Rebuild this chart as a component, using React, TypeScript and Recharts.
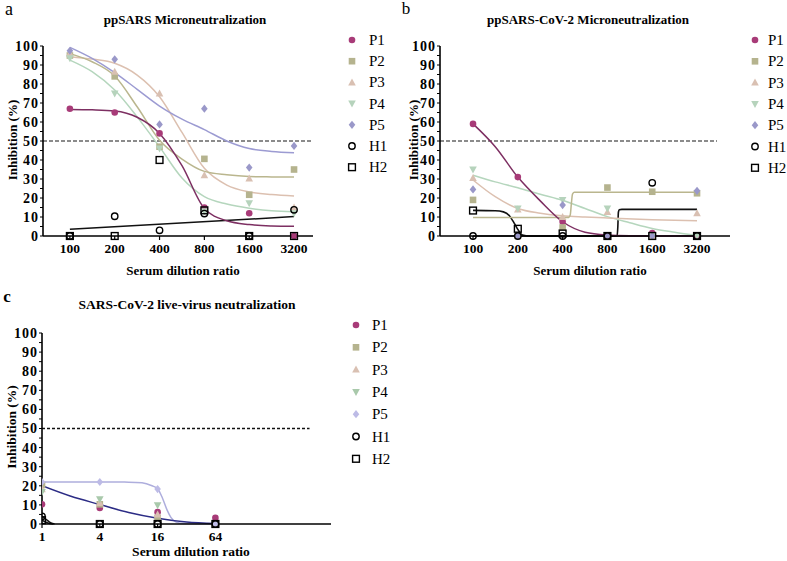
import React from 'react';
import { ComposedChart, Scatter, Line, XAxis, YAxis, ReferenceLine } from 'recharts';

const FONT = '"Liberation Serif", "Times New Roman", serif';

// dilution steps
const ppDilutions = [100, 200, 400, 800, 1600, 3200];
const liveDilutions = [1, 4, 16, 64];
const yTicks = [0, 5, 10, 15, 20, 25, 30, 35, 40, 45, 50, 55, 60, 65, 70, 75, 80, 85, 90, 95, 100];

// a: ppSARS microneutralization (% inhibition)
const sarsP1 = [67, 65, 54, 15, 12, 0];
const sarsP2 = [95, 84, 47, 40.6, 21.7, 35];
const sarsP3 = [96, 86.5, 75, 32, 30.2, 15];
const sarsP4 = [93.5, 75, 46, 13, 17.2, 12];
const sarsP5 = [97.5, 93, 58.7, 67, 36, 47.4];
const sarsH1 = [0, 10.4, 3, 11.8, 0, 13.8];
const sarsH2 = [0, 0, 40, 13.5, 0, 0];

// a: fitted curves
const sarsFitX = [100, 141, 200, 283, 400, 566, 800, 1131, 1600, 2263, 3200];
const sarsFitP1 = [66.6, 66.4, 65.8, 62.5, 54, 37, 14.5, 8, 6, 5.3, 5.1];
const sarsFitP2 = [96, 91.7, 84.2, 68, 50.4, 40.5, 34, 32.2, 31.3, 31.1, 31];
const sarsFitP3 = [94.4, 93.1, 90.9, 84.7, 73.3, 54.5, 35.6, 26.8, 23.2, 21.8, 21.1];
const sarsFitP4 = [92.6, 86.5, 76.8, 62.7, 46.9, 30.5, 20.7, 16.8, 14.6, 13.3, 12.8];
const sarsFitP5 = [99.3, 93.5, 86, 77.2, 68.4, 61.5, 56, 50, 46, 44.5, 43.8];
const sarsFitHX = [100, 3200];
const sarsFitH = [3.5, 10.2];

// b: ppSARS-CoV-2 microneutralization
const cov2P1 = [59, 31, 7.5, 0, 1.5, 0];
const cov2P2 = [19, 0, 4.5, 25.5, 23.3, 22.5];
const cov2P3 = [30.5, 14, 10, 12.6, 0, 12];
const cov2P4 = [35, 14.5, 19, 14.5, 0, 0];
const cov2P5 = [24.5, 0, 16.3, 0, 0, 23.8];
const cov2H1 = [0, 0, 0, 0, 28, 0];
const cov2H2 = [13.4, 3.8, 1.3, 0, 0, 0];

// b: fitted curves
const cov2FitP1X = [100, 141, 200, 283, 400, 566, 800, 1131, 1600, 3200];
const cov2FitP1 = [59, 47, 31, 18.5, 7.5, 2, 0.5, 0.1, 0, 0];
const cov2FitP2X = [100, 440, 450, 458, 466, 480, 3200];
const cov2FitP2 = [9.8, 9.8, 11, 17, 22, 23, 23];
const cov2FitP3X = [100, 141, 200, 283, 400, 566, 800, 1600, 3200];
const cov2FitP3 = [29.5, 20.7, 14.5, 12, 10.6, 10, 9.5, 8.6, 8];
const cov2FitP4X = [100, 141, 200, 283, 400, 566, 800, 1131, 1600, 2263, 3200];
const cov2FitP4 = [32, 28.5, 25.4, 22, 18.8, 14.5, 10.2, 7, 4, 2, 0.3];
const cov2FitH1X = [100, 900, 930, 940, 948, 960, 1000, 3200];
const cov2FitH1 = [0, 0, 0.3, 5, 12.5, 13.8, 14, 14];
const cov2FitH2X = [100, 141, 160, 175, 190, 200, 215, 240, 3200];
const cov2FitH2 = [13.5, 13.3, 12.7, 10.8, 6.5, 3.5, 0.5, 0, 0];

// c: SARS-CoV-2 live-virus neutralization
const liveP1 = [10.3, 8.4, 6.2, 3.2];
const liveP2 = [20.4, 10.3, 3.2, 0];
const liveP3 = [18.2, 11, 5, 0];
const liveP4 = [16.8, 13, 9.8, 0];
const liveP5 = [22, 22, 18.3, 0];
const liveH1 = [4, 0, 0, 0];
const liveH2 = [2, 0, 0, 0];

// c: fitted curves
const liveFitP5X = [1, 4, 8, 11, 14, 16, 18, 20, 22, 25, 30, 64];
const liveFitP5 = [22, 22, 21.9, 21.6, 20, 18.5, 13.5, 7.5, 3.5, 1, 0.2, 0];
const liveFitAllX = [1, 2, 4, 8, 16, 32, 64];
const liveFitAll = [20, 14.5, 10.2, 6, 3, 1, 0.2];
const liveFitH1X = [1, 1.1, 1.2, 1.35];
const liveFitH1 = [4, 2.5, 1, 0];
const liveFitH2X = [1, 1.15, 1.3];
const liveFitH2 = [2, 0.5, 0];

type Kind = 'circle' | 'square' | 'triangle' | 'down' | 'diamond' | 'openCircle' | 'openSquare';

const Marker = ({ kind, color, cx, cy }: { kind: Kind; color: string; cx: number; cy: number }) => {
  const s = 3.3;
  switch (kind) {
    case 'circle':
      return <circle cx={cx} cy={cy} r={s} fill={color} />;
    case 'square':
      return <rect x={cx - s} y={cy - s} width={2 * s} height={2 * s} fill={color} />;
    case 'triangle':
      return <polygon points={`${cx},${cy - s - 0.7} ${cx + s + 0.5},${cy + s - 0.3} ${cx - s - 0.5},${cy + s - 0.3}`} fill={color} />;
    case 'down':
      return <polygon points={`${cx},${cy + s + 0.7} ${cx + s + 0.5},${cy - s + 0.3} ${cx - s - 0.5},${cy - s + 0.3}`} fill={color} />;
    case 'diamond':
      return <polygon points={`${cx},${cy - s - 0.8} ${cx + s},${cy} ${cx},${cy + s + 0.8} ${cx - s},${cy}`} fill={color} />;
    case 'openCircle':
      return <circle cx={cx} cy={cy} r={3.2} fill="none" stroke="#000" strokeWidth={1.4} />;
    case 'openSquare':
      return <rect x={cx - 3.4} y={cy - 3.4} width={6.8} height={6.8} fill="none" stroke="#000" strokeWidth={1.4} />;
  }
  return null;
};

interface Series { name: string; kind: Kind; color: string; values: number[] }
interface Fit { xs: number[]; ys: number[]; color: string; width?: number }

const toPts = (xs: number[], ys: number[]) => xs.map((x, i) => ({ x, y: ys[i] }));

const mk = (c1: string, c2: string, c3: string, c4: string, c5: string, v: number[][]): Series[] => [
  { name: 'P1', kind: 'circle', color: c1, values: v[0] },
  { name: 'P2', kind: 'square', color: c2, values: v[1] },
  { name: 'P3', kind: 'triangle', color: c3, values: v[2] },
  { name: 'P4', kind: 'down', color: c4, values: v[3] },
  { name: 'P5', kind: 'diamond', color: c5, values: v[4] },
  { name: 'H1', kind: 'openCircle', color: '#000', values: v[5] },
  { name: 'H2', kind: 'openSquare', color: '#000', values: v[6] },
];

const M1 = '#a83b78';
const M2 = '#b5b38e';
const M3 = '#d9c0b2';
const M4 = '#b6d3bc';
const M5 = '#9a98c9';

const sarsSeries = mk(M1, M2, M3, M4, M5, [sarsP1, sarsP2, sarsP3, sarsP4, sarsP5, sarsH1, sarsH2]);
const cov2Series = mk(M1, M2, M3, M4, M5, [cov2P1, cov2P2, cov2P3, cov2P4, cov2P5, cov2H1, cov2H2]);
const liveSeries = mk(M1, M2, M3, '#a9c9ab', '#bdbbe6', [liveP1, liveP2, liveP3, liveP4, liveP5, liveH1, liveH2]);

const sarsFits: Fit[] = [
  { xs: sarsFitHX, ys: sarsFitH, color: '#111' },
  { xs: sarsFitX, ys: sarsFitP4, color: '#b5d6bd' },
  { xs: sarsFitX, ys: sarsFitP3, color: '#dcc0b0' },
  { xs: sarsFitX, ys: sarsFitP2, color: '#bab68e' },
  { xs: sarsFitX, ys: sarsFitP5, color: '#9c9bd2' },
  { xs: sarsFitX, ys: sarsFitP1, color: '#7d2f62' },
];

const cov2Fits: Fit[] = [
  { xs: cov2FitH1X, ys: cov2FitH1, color: '#111', width: 1.6 },
  { xs: cov2FitH2X, ys: cov2FitH2, color: '#111', width: 1.6 },
  { xs: cov2FitP4X, ys: cov2FitP4, color: '#b5d6bd' },
  { xs: cov2FitP3X, ys: cov2FitP3, color: '#dcc0b0' },
  { xs: cov2FitP2X, ys: cov2FitP2, color: '#bab68e' },
  { xs: cov2FitP1X, ys: cov2FitP1, color: '#7d2f62' },
];

const liveFits: Fit[] = [
  { xs: liveFitH1X, ys: liveFitH1, color: '#111' },
  { xs: liveFitH2X, ys: liveFitH2, color: '#111' },
  { xs: liveFitP5X, ys: liveFitP5, color: '#aeaedd' },
  { xs: liveFitAllX, ys: liveFitAll, color: '#2c2c85' },
];

interface PanelProps {
  left: number;
  top: number;
  width: number;
  height: number;
  yWidth: number;
  domain: [number, number];
  ticks: number[];
  dashEnd: number;
  dashColor: string;
  dashArray: string;
  series: Series[];
  fits: Fit[];
}

const Panel = ({ left, top, width, height, yWidth, domain, ticks, dashEnd, dashColor, dashArray, series, fits }: PanelProps) => (
  <div style={{ position: 'absolute', left, top }}>
    <ComposedChart width={width} height={height} margin={{ top: 46, right: 7, bottom: 4, left: 0 }}>
      <XAxis
        type="number"
        dataKey="x"
        scale="log"
        domain={domain}
        ticks={ticks}
        interval={0}
        allowDataOverflow
        height={20}
        axisLine={{ stroke: '#000', strokeWidth: 1.6 }}
        tickLine={{ stroke: '#000', strokeWidth: 1.2 }}
        tickSize={4}
        tickMargin={3}
        tick={{ fill: '#000', fontFamily: FONT, fontWeight: 'bold', fontSize: 13.5 }}
      />
      <YAxis
        type="number"
        dataKey="y"
        domain={[0, 100]}
        ticks={yTicks}
        interval={0}
        width={yWidth}
        tickFormatter={(v: number) => (v % 10 === 0 ? String(v) : '')}
        axisLine={{ stroke: '#000', strokeWidth: 1.6 }}
        tickLine={{ stroke: '#000', strokeWidth: 1 }}
        tickSize={3}
        tickMargin={1}
        tick={{ fill: '#000', fontFamily: FONT, fontWeight: 'bold', fontSize: 14, letterSpacing: 1 }}
      />
      <ReferenceLine
        segment={[{ x: domain[0], y: 50 }, { x: dashEnd, y: 50 }]}
        stroke={dashColor}
        strokeDasharray={dashArray}
        strokeWidth={1.3}
      />
      {fits.map((f, i) => (
        <Line
          key={'f' + i}
          data={toPts(f.xs, f.ys)}
          dataKey="y"
          type="monotone"
          stroke={f.color}
          strokeWidth={f.width ?? 1.5}
          dot={false}
          activeDot={false}
          legendType="none"
          isAnimationActive={false}
        />
      ))}
      {series.map((s) => (
        <Scatter
          key={s.name}
          name={s.name}
          data={toPts(ticks.slice(0, s.values.length), s.values)}
          shape={(p: any) => <Marker kind={s.kind} color={s.color} cx={p.cx} cy={p.cy} />}
          isAnimationActive={false}
        />
      ))}
    </ComposedChart>
  </div>
);

const Text = ({ x, y, size, bold, rotate, children }: { x: number; y: number; size: number; bold?: boolean; rotate?: boolean; children: React.ReactNode }) => (
  <div
    style={{
      position: 'absolute',
      left: x,
      top: y,
      transform: `translate(-50%, -50%)${rotate ? ' rotate(-90deg)' : ''}`,
      fontFamily: FONT,
      fontSize: size,
      fontWeight: bold ? 'bold' : 'normal',
      lineHeight: 1,
      whiteSpace: 'nowrap',
      color: '#000',
    }}
  >
    {children}
  </div>
);

const LegendBox = ({ x, textX, y0, step, series }: { x: number; textX: number; y0: number; step: number; series: Series[] }) => (
  <>
    <svg style={{ position: 'absolute', left: 0, top: 0 }} width={787} height={561} pointerEvents="none">
      {series.map((s, i) => (
        <Marker key={s.name} kind={s.kind} color={s.color} cx={x} cy={y0 + i * step} />
      ))}
    </svg>
    {series.map((s, i) => (
      <div
        key={s.name}
        style={{ position: 'absolute', left: textX, top: y0 + i * step - 8, fontFamily: FONT, fontSize: 15, lineHeight: '16px' }}
      >
        {s.name}
      </div>
    ))}
  </>
);

export default function App() {
  return (
    <div style={{ position: 'absolute', left: 0, top: 0, width: 787, height: 561, background: '#fff', overflow: 'hidden' }}>
      <Panel left={0} top={0} width={320} height={260} yWidth={43} domain={[66, 4290]} ticks={ppDilutions} dashEnd={4290} dashColor="#666" dashArray="4 2" series={sarsSeries} fits={sarsFits} />
      <Panel left={397} top={0} width={340} height={260} yWidth={43} domain={[60, 5330]} ticks={ppDilutions} dashEnd={4362} dashColor="#666" dashArray="4 2" series={cov2Series} fits={cov2Fits} />
      <Panel left={0} top={287} width={338} height={261} yWidth={42} domain={[1, 1024]} ticks={liveDilutions} dashEnd={612} dashColor="#111" dashArray="3 2" series={liveSeries} fits={liveFits} />

      <Text x={9} y={9} size={18}>a</Text>
      <Text x={185} y={19} size={13} bold>ppSARS Microneutralization</Text>
      <Text x={12} y={140} size={13} bold rotate>Inhibition (%)</Text>
      <Text x={183} y={270} size={13} bold>Serum dilution ratio</Text>
      <LegendBox x={352} textX={369} y0={40} step={21.2} series={sarsSeries} />

      <Text x={406} y={8} size={17}>b</Text>
      <Text x={588} y={19} size={13} bold>ppSARS-CoV-2 Microneutralization</Text>
      <Text x={413} y={140} size={13} bold rotate>Inhibition (%)</Text>
      <Text x={590} y={270} size={13} bold>Serum dilution ratio</Text>
      <LegendBox x={755} textX={768} y0={40} step={21.3} series={cov2Series} />

      <Text x={7} y={296} size={17} bold>c</Text>
      <Text x={187} y={305} size={13.5} bold>SARS-CoV-2 live-virus neutralization</Text>
      <Text x={12} y={427} size={13.5} bold rotate>Inhibition (%)</Text>
      <Text x={191} y={552} size={13.5} bold>Serum dilution ratio</Text>
      <LegendBox x={356} textX={372} y0={325} step={22.3} series={liveSeries} />
    </div>
  );
}
